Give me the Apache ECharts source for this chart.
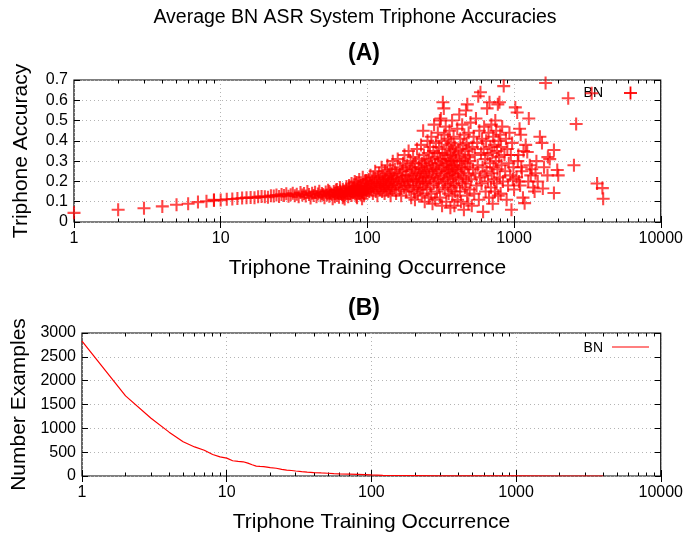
<!DOCTYPE html>
<html>
<head>
<meta charset="utf-8">
<title>Average BN ASR System Triphone Accuracies</title>
<script src="https://cdn.jsdelivr.net/npm/echarts@6/dist/echarts.min.js"></script>
<style>
html, body { margin: 0; padding: 0; background: #fff; }
#container { width: 686px; height: 535px; }
</style>
</head>
<body>
<div id="container"></div>
<script>
// (A) triphone accuracy vs. training occurrence, split by occurrence band
var occLow = [1,2,3,4,5,6,7,8,9,9,10,11,12,13,14,15,16,17,18,19,20,21,22,23,24,25,26,27,28,29,30,
  31,32,33,34,35,36,37,38,39,40,41,42,43,44,45,46,47,48,49,50,51,52,53,54,55,56,57,58,59,60,
  61,62,63,64,65,66,67,68,69,70,71,72,73,74,75,76,77,78,79,80,81,82,83,84,85,86,87,88,89,90,
  91,92,93,94,95,96,97,98,99,100,55,62,68,72,78,82,85,88,90,93,95,97,60,65,70,75,80,84,86,92,98,99];
var accLow = [0.045,0.06,0.068,0.077,0.085,0.09,0.098,0.102,0.106,0.11,0.108,0.112,0.113,0.116,0.118,0.12,0.121,0.119,0.124,0.126,0.125,
  0.122,0.13,0.128,0.133,0.126,0.136,0.131,0.139,0.127,0.134,0.142,0.13,0.137,0.124,0.145,0.133,0.14,0.128,0.15,0.136,
  0.118,0.142,0.131,0.147,0.125,0.138,0.152,0.129,0.141,0.135,0.12,0.148,0.133,0.156,0.127,0.143,0.137,0.115,0.15,0.139,
  0.158,0.131,0.146,0.122,0.153,0.141,0.135,0.162,0.128,0.148,0.137,0.155,0.143,0.125,0.166,0.139,0.152,0.131,0.16,0.145,
  0.172,0.138,0.154,0.127,0.163,0.149,0.178,0.141,0.158,0.133,0.168,0.152,0.145,0.185,0.139,0.162,0.171,0.148,0.19,0.156,
  0.15,0.16,0.12,0.175,0.19,0.2,0.12,0.21,0.18,0.22,0.13,0.2,0.125,0.17,0.113,0.18,0.165,0.195,0.175,0.115,0.205,0.165];

var occMid = [101,102,103,104,105,106,107,108,109,110,111,112,113,114,115,116,117,118,119,120,121,122,123,124,125,
  126,127,128,129,130,131,132,133,134,135,136,137,138,139,140,141,142,143,144,145,146,147,148,149,150,
  151,153,154,156,157,158,160,161,163,164,166,167,169,170,172,173,175,176,178,179,181,182,184,185,187,188,190,191,193,194,
  196,197,199,200,202,203,205,206,208,209,211,212,214,215,217,218,220,221,223,224,226,227,229,230,232,233,235,236,238,239,
  240,241,243,244,246,247,249,250,
  252,254,255,257,258,260,262,263,265,267,268,270,272,273,275,277,278,280,282,283,285,287,288,290,292,293,295,297,298,300,
  302,303,305,307,308,310,312,313,315,317,318,320,322,323,325,327,328,330,332,333,335,337,338,340,342,343,345,347,348,350,
  352,353,355,357,358,360,362,363,365,367,368,370,372,373,375,377,378,380,382,383,385,387,388,390,392,393,395,397,398,400,
  403,405,408,410,412,415,418,420,423,425,428,430,433,435,438,440,443,445,448,450,453,455,458,460,463,465,468,470,473,475,
  478,480,483,485,488,490,493,495,498,500,505,510,515,520,525,530,535,540,545,550,555,560,565,570,575,580,585,590,595,600,
  605,610,615,620,625,630,635,640,645,650,
  655,660,665,670,675,680,685,690,695,700,705,710,715,720,725,730,735,740,745,750,755,760,765,770,775,780,785,790,795,800,
  805,810,815,820,830,840,850,860,870,880,890,900,910,920,930,940,950,960,970,980,990,1000];
var accMid = [0.17,0.21,0.15,0.19,0.23,0.16,0.18,0.2,0.14,0.22,0.17,0.19,0.25,0.15,0.2,0.18,0.13,0.22,0.17,0.24,0.19,0.16,0.21,0.18,0.27,
  0.15,0.2,0.23,0.17,0.19,0.14,0.25,0.21,0.18,0.16,0.22,0.28,0.19,0.15,0.23,0.2,0.17,0.26,0.13,0.21,0.18,0.24,0.16,0.3,0.2,
  0.22,0.17,0.26,0.19,0.14,0.24,0.21,0.31,0.18,0.23,0.16,0.27,0.2,0.13,0.25,0.19,0.29,0.22,0.17,0.33,0.2,0.26,0.15,0.23,0.28,0.18,0.21,0.35,0.16,0.25,
  0.2,0.3,0.12,0.23,0.27,0.18,0.32,0.21,0.15,0.26,0.11,0.29,0.2,0.24,0.17,0.36,0.22,0.14,0.27,0.19,0.31,0.24,0.16,0.21,0.38,0.26,0.13,0.29,0.2,0.23,
  0.45,0.17,0.33,0.25,0.1,0.28,0.19,0.22,
  0.3,0.16,0.25,0.4,0.2,0.34,0.12,0.27,0.22,0.37,0.18,0.29,0.14,0.42,0.24,0.31,0.09,0.26,0.35,0.19,0.48,0.23,0.32,0.11,0.28,0.39,0.21,0.26,0.15,0.34,
  0.44,0.2,0.29,0.17,0.37,0.25,0.5,0.12,0.31,0.51,0.22,0.4,0.27,0.08,0.34,0.59,0.19,0.3,0.56,0.24,0.43,0.16,0.33,0.21,0.47,0.28,0.1,0.36,0.25,0.31,
  0.18,0.41,0.23,0.29,0.14,0.38,0.26,0.45,0.2,0.33,0.07,0.27,0.39,0.17,0.3,0.24,0.5,0.13,0.35,0.22,0.28,0.42,0.19,0.32,0.08,0.26,0.37,0.15,0.3,0.23,
  0.34,0.18,0.28,0.46,0.11,0.25,0.36,0.21,0.53,0.3,0.15,0.41,0.24,0.1,0.33,0.27,0.48,0.19,0.38,0.22,0.31,0.06,0.43,0.26,0.17,0.35,0.29,0.55,0.2,0.39,
  0.13,0.58,0.27,0.32,0.09,0.44,0.23,0.36,0.16,0.3,0.49,0.21,0.08,0.37,0.26,0.42,0.14,0.33,0.24,0.51,0.18,0.39,0.28,0.62,0.11,0.45,0.22,0.64,0.34,0.19,
  0.41,0.27,0.05,0.36,0.47,0.23,0.31,0.15,0.4,0.25,
  0.56,0.33,0.2,0.44,0.12,0.59,0.29,0.37,0.17,0.48,0.24,0.34,0.09,0.42,0.27,0.21,0.38,0.15,0.5,0.3,0.45,0.19,0.35,0.26,0.58,0.13,0.4,0.32,0.59,0.22,
  0.43,0.14,0.37,0.28,0.47,0.2,0.67,0.33,0.25,0.41,0.11,0.36,0.18,0.29,0.44,0.23,0.33,0.06,0.39,0.21,0.27,0.16];

var occHigh = [1020,1040,1050,1060,1070,1080,1090,1100,1110,1120,1130,1150,1160,1180,1200,1230,1250,1260,1280,1300,
  1320,1350,1380,1400,1420,1450,1500,1550,1570,1600,1640,1690,1700,1750,1870,1870,1970,2000,2340,2560,2650,3380,3680,4000,4050];
var accHigh = [0.565,0.22,0.54,0.3,0.33,0.2,0.46,0.18,0.43,0.27,0.25,0.12,0.35,0.093,0.38,0.345,0.2,0.51,0.28,0.23,
  0.26,0.17,0.15,0.24,0.3,0.2,0.42,0.39,0.165,0.27,0.685,0.23,0.32,0.31,0.355,0.143,0.256,0.23,0.61,0.28,0.483,0.635,0.19,0.167,0.115];

// (B) number of triphones seen a given number of times
var occCount = [1,2,3,4,5,6,7,8,9,10,11,12,13,14,15,16,17,18,19,20,22,24,26,28,30,33,36,40,45,50,55,60,70,80,90,100,
  120,150,200,300,500,700,1000,2000,4000];
var numExamples = [2830,1680,1210,920,720,610,540,450,400,375,320,305,298,270,235,208,200,195,185,175,162,140,125,115,105,
  92,82,72,64,58,50,45,40,35,28,22,15,10,7,4,2,1,1,0.5,0];

var decades = [1, 10, 100, 1000, 10000];

function pairs(xs, ys) {
	return xs.map(function (x, i) { return [x, ys[i]]; });
}

var minorTicks = [];
for (var d = 0; d < decades.length - 1; d++) {
	for (var m = 2; m <= 9; m++) minorTicks.push(decades[d] * m);
}

var font = 'Liberation Sans';
var gridLine = { show: true, lineStyle: { color: '#b4b4b4', type: [1, 3], width: 1 } };
var plain = function (v) { return String(+v.toFixed(6)); };

function logAxis(gi, pos, labels, name, gap) {
	return {
		type: 'log', logBase: 10, gridIndex: gi, position: pos, min: 1, max: 10000,
		axisLine: { show: false },
		axisTick: { show: true, inside: true, length: 6, lineStyle: { color: '#000' } },
		axisLabel: { show: labels, color: '#000', fontFamily: font, fontSize: 16, margin: 9, formatter: plain },
		splitLine: labels ? gridLine : { show: false },
		name: name, nameLocation: 'middle', nameGap: gap,
		nameTextStyle: { color: '#000', fontFamily: font, fontSize: 21 }
	};
}
function minorAxis(gi, pos) {
	return {
		type: 'log', logBase: 10, gridIndex: gi, position: pos, min: 1, max: 10000,
		axisLine: { show: false },
		axisTick: { show: true, inside: true, length: 3.5, customValues: minorTicks, lineStyle: { color: '#000' } },
		axisLabel: { show: false },
		splitLine: { show: false }
	};
}
function valAxis(gi, pos, max, step, labels, name, gap) {
	return {
		type: 'value', gridIndex: gi, position: pos, min: 0, max: max, interval: step,
		axisLine: { show: false },
		axisTick: { show: true, inside: true, length: 6, lineStyle: { color: '#000' } },
		axisLabel: { show: labels, color: '#000', fontFamily: font, fontSize: 16, margin: 6, formatter: plain },
		splitLine: labels ? gridLine : { show: false },
		name: name, nameLocation: 'middle', nameGap: gap, nameRotate: 90,
		nameTextStyle: { color: '#000', fontFamily: font, fontSize: 21 }
	};
}

var dom = document.getElementById('container');
var myChart = echarts.init(dom, null, { renderer: 'canvas' });

var option = {
	backgroundColor: '#fff',
	animation: false,
	grid: [
		{ left: 74, right: 22, top: 80, height: 142, show: true, borderColor: '#000', borderWidth: 1.2, backgroundColor: 'transparent' },
		{ left: 82, right: 22, top: 333, height: 143, show: true, borderColor: '#000', borderWidth: 1.2, backgroundColor: 'transparent' }
	],
	xAxis: [
		logAxis(0, 'bottom', true, 'Triphone Training Occurrence', 36),
		logAxis(0, 'top', false, '', 0),
		minorAxis(0, 'bottom'),
		minorAxis(0, 'top'),
		logAxis(1, 'bottom', true, 'Triphone Training Occurrence', 36),
		logAxis(1, 'top', false, '', 0),
		minorAxis(1, 'bottom'),
		minorAxis(1, 'top')
	],
	yAxis: [
		valAxis(0, 'left', 0.7, 0.1, true, 'Triphone Accuracy', 42),
		valAxis(0, 'right', 0.7, 0.1, false, '', 0),
		valAxis(1, 'left', 3000, 500, true, 'Number Examples', 51),
		valAxis(1, 'right', 3000, 500, false, '', 0)
	],
	series: [
		{
			name: 'BN', type: 'scatter', xAxisIndex: 0, yAxisIndex: 0,
			symbol: 'path://M0,4.2H10V5.8H0Z M4.2,0H5.8V10H4.2Z', symbolSize: 13,
			itemStyle: { color: 'rgba(255,0,0,0.9)' },
			data: pairs(occLow, accLow).concat(pairs(occMid, accMid), pairs(occHigh, accHigh))
		},
		{
			name: 'BN', type: 'line', xAxisIndex: 4, yAxisIndex: 2,
			symbol: 'none', lineStyle: { color: '#ff0000', width: 1.2 },
			data: pairs(occCount, numExamples)
		}
	],
	graphic: [
		{ type: 'text', x: 355, y: 18, style: { text: 'Average BN ASR System Triphone Accuracies', fontFamily: font, fontSize: 19.5, fill: '#000', align: 'center', verticalAlign: 'middle' } },
		{ type: 'text', x: 364, y: 54, style: { text: '(A)', fontFamily: font, fontSize: 23, fontWeight: 'bold', fill: '#000', align: 'center', verticalAlign: 'middle' } },
		{ type: 'text', x: 364, y: 309, style: { text: '(B)', fontFamily: font, fontSize: 23, fontWeight: 'bold', fill: '#000', align: 'center', verticalAlign: 'middle' } },
		{ type: 'text', x: 603, y: 93, style: { text: 'BN', fontFamily: font, fontSize: 14, fill: '#000', align: 'right', verticalAlign: 'middle' } },
		{ type: 'line', shape: { x1: 624, y1: 93, x2: 637, y2: 93 }, style: { stroke: '#ff0000', lineWidth: 1.8 } },
		{ type: 'line', shape: { x1: 630.5, y1: 86.5, x2: 630.5, y2: 99.5 }, style: { stroke: '#ff0000', lineWidth: 1.8 } },
		{ type: 'text', x: 603, y: 348, style: { text: 'BN', fontFamily: font, fontSize: 14, fill: '#000', align: 'right', verticalAlign: 'middle' } },
		{ type: 'line', shape: { x1: 612, y1: 347, x2: 649, y2: 347 }, style: { stroke: '#ff0000', lineWidth: 1.2 } }
	]
};

if (option && typeof option === 'object') {
	myChart.setOption(option, true);
}
</script>
</body>
</html>
